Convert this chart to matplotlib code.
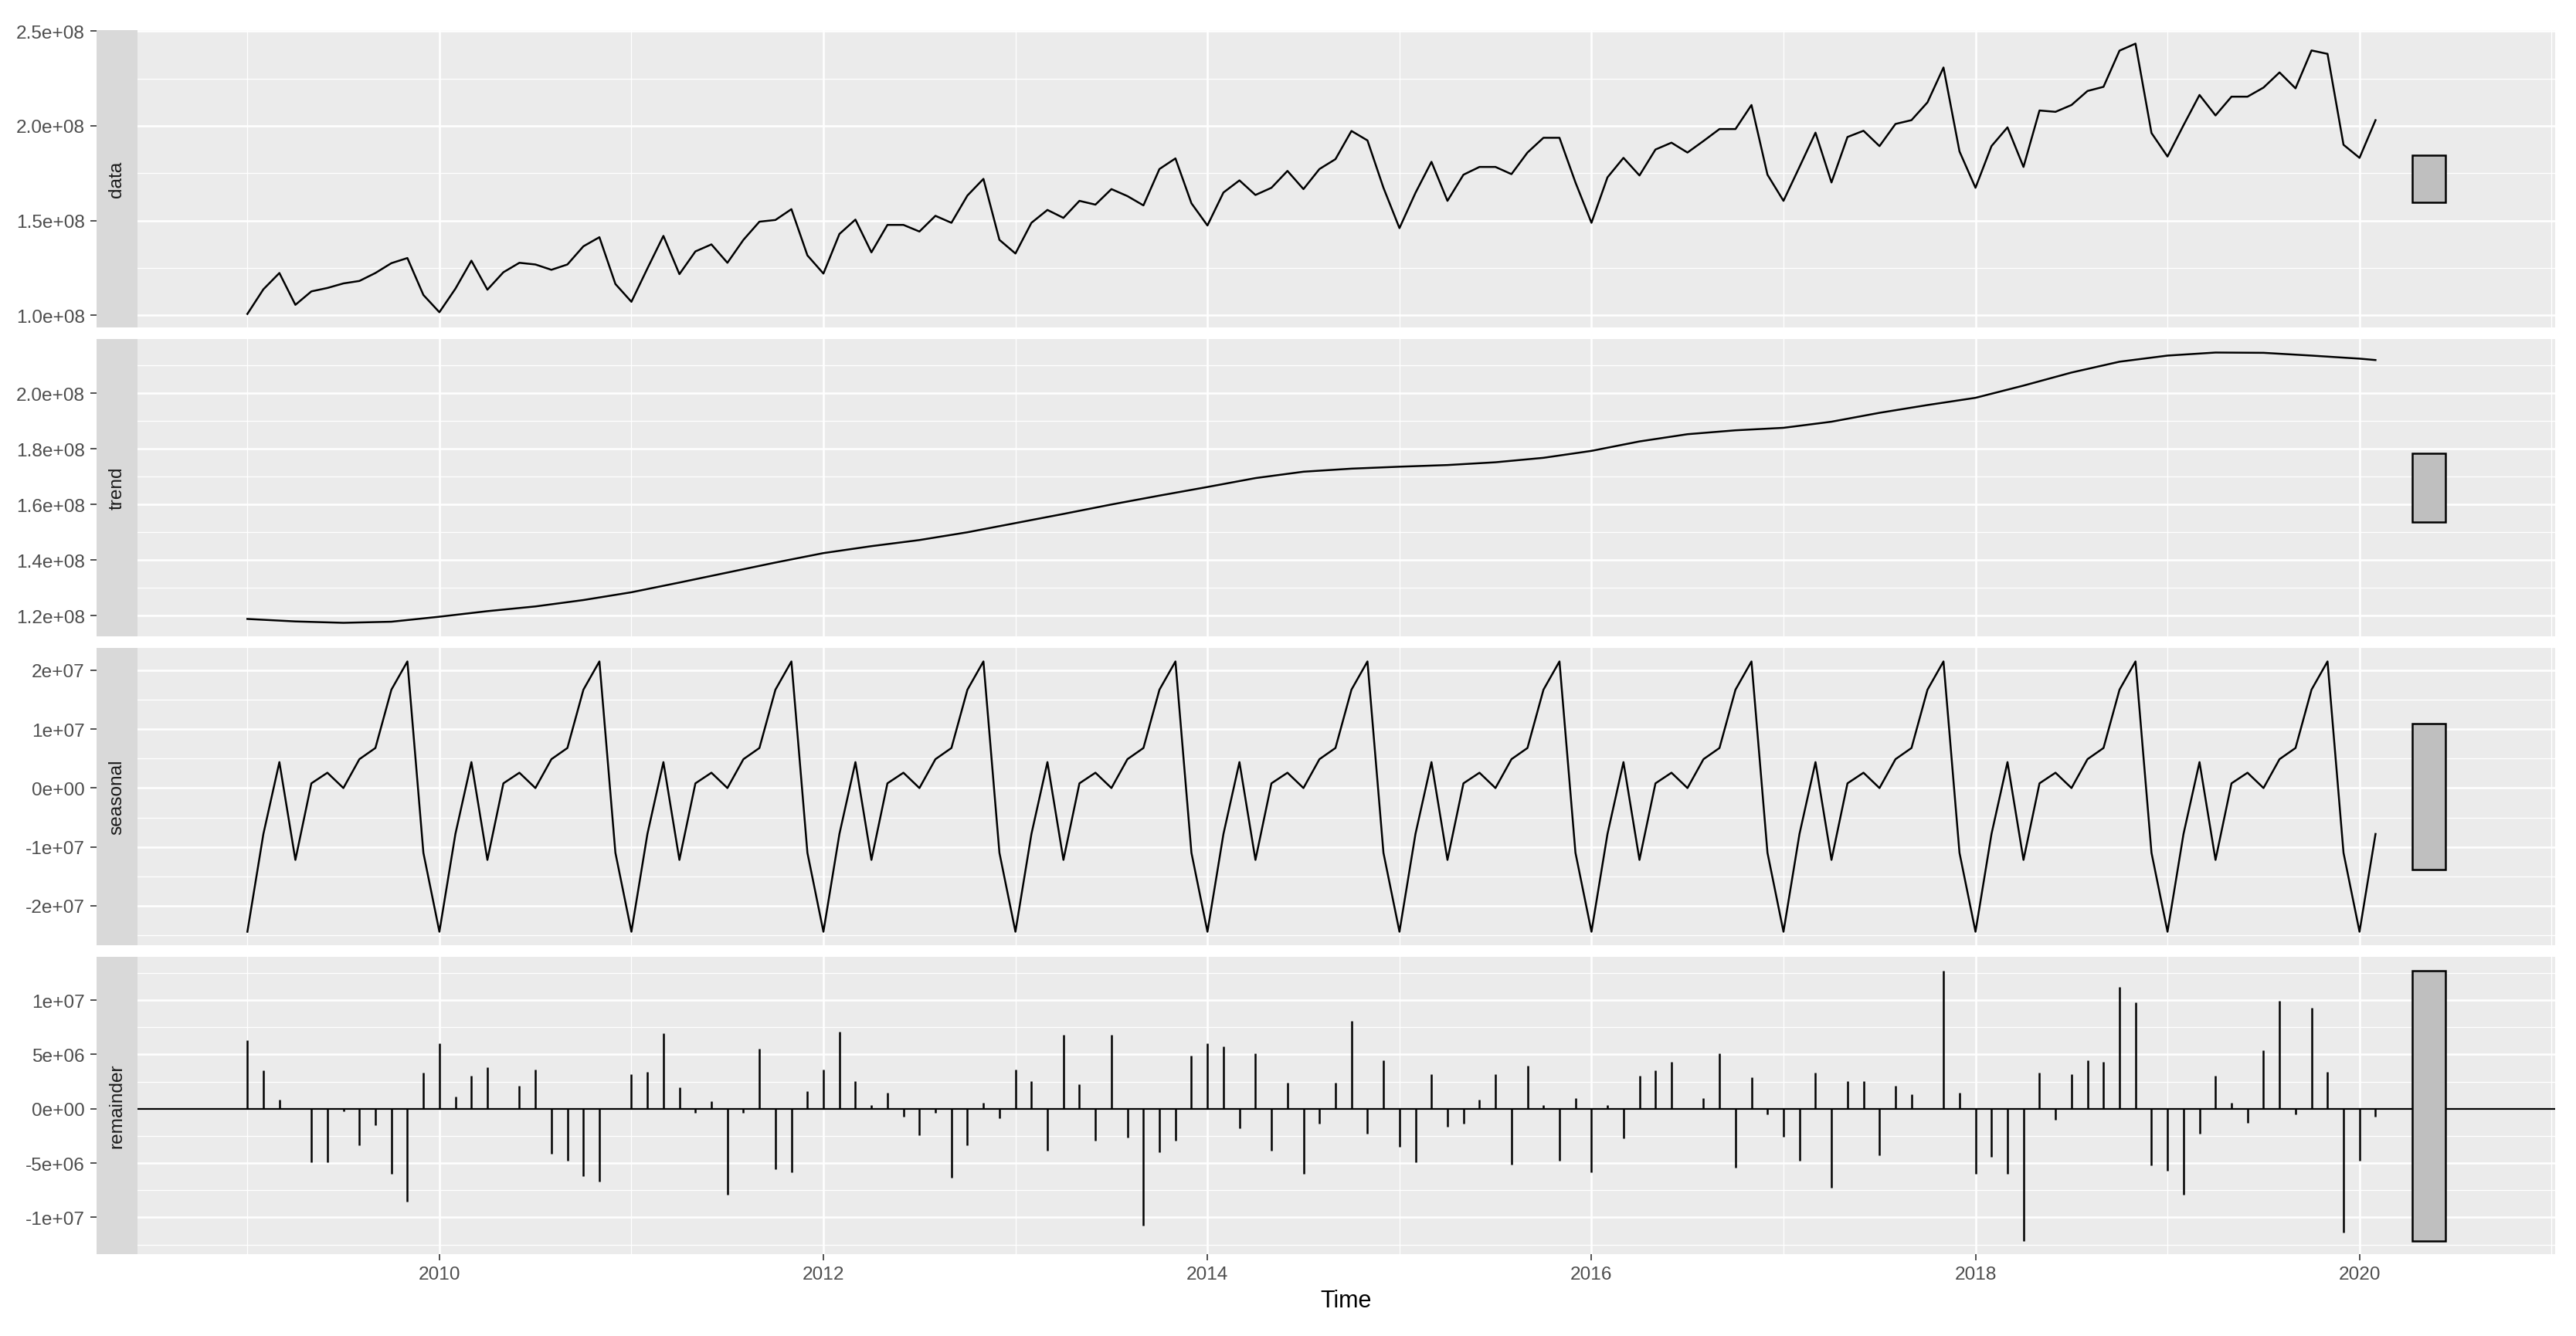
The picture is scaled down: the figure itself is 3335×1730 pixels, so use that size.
import matplotlib.pyplot as plt
import numpy as np

plt.rcParams['font.family'] = ['Liberation Sans', 'DejaVu Sans']

# monthly series Jan 2009 .. Feb 2020, values in millions
data_m = [100.7, 113.7, 122.3, 105.5, 112.6, 114.4, 116.8, 118.1, 122.3, 127.5, 130.2, 110.7,
          101.6, 114.0, 128.8, 113.5, 122.7, 127.7, 126.8, 124.0, 126.8, 136.4, 141.2, 116.5,
          107.1, 124.7, 141.9, 121.7, 133.7, 137.4, 127.7, 139.8, 149.4, 150.3, 156.0, 131.6,
          122.0, 142.9, 150.5, 133.2, 147.7, 147.7, 144.2, 152.5, 148.8, 163.2, 172.0, 139.8,
          132.6, 148.8, 155.6, 151.4, 160.4, 158.4, 166.6, 162.9, 158.0, 177.2, 182.8, 159.1,
          147.4, 164.8, 171.2, 163.5, 167.3, 176.2, 166.6, 177.2, 182.4, 197.3, 192.3, 167.3,
          146.0, 164.6, 181.0, 160.4, 174.2, 178.3, 178.3, 174.5, 185.9, 193.7, 193.7, 170.1,
          148.8, 172.8, 183.1, 173.8, 187.5, 191.1, 185.9, 192.0, 198.3, 198.3, 211.0, 174.2,
          160.4, 178.3, 196.4, 170.1, 194.1, 197.4, 189.3, 201.0, 203.0, 212.4, 230.8, 186.5,
          167.3, 189.3, 199.2, 178.3, 208.1, 207.4, 211.0, 218.4, 220.6, 239.7, 243.4, 196.2,
          183.8, 200.3, 216.3, 205.5, 215.4, 215.4, 220.2, 228.2, 219.8, 239.8, 238.0, 190.0,
          183.1, 203.0]

remainder_m = [6.31, 3.50, 0.83, 0.05, -4.95, -4.95, -0.24, -3.38, -1.50, -6.00, -8.52, 3.33,
               6.02, 1.14, 3.02, 3.81, 0.05, 2.10, 3.64, -4.17, -4.81, -6.19, -6.67, 0.05,
               3.19, 3.38, 6.95, 1.95, -0.38, 0.69, -7.90, -0.38, 5.55, -5.60, -5.88, 1.62,
               3.64, 7.10, 2.57, 0.36, 1.48, -0.71, -2.45, -0.40, -6.36, -3.38, 0.52, -0.88,
               3.64, 2.57, -3.86, 6.79, 2.24, -2.93, 6.79, -2.62, -10.76, -4.00, -2.93, 4.90,
               6.00, 5.71, -1.83, 5.07, -3.86, 2.38, -6.02, -1.36, 2.38, 8.05, -2.29, 4.43,
               -3.52, -4.95, 3.19, -1.67, -1.36, 0.83, 3.19, -5.12, 3.98, 0.36, -4.81, 1.00,
               -5.88, 0.36, -2.74, 3.02, 3.50, 4.29, 0.05, 1.00, 5.07, -5.40, 2.86, -0.55,
               -2.57, -4.81, 3.33, -7.26, 2.57, 2.57, -4.29, 2.10, 1.31, 0.05, 12.74, 1.48,
               -6.00, -4.45, -6.00, -12.14, 3.33, -1.00, 3.19, 4.45, 4.29, 11.19, 9.79, -5.24,
               -5.71, -7.90, -2.29, 3.02, 0.52, -1.33, 5.38, 9.93, -0.55, 9.31, 3.36, -11.36,
               -4.81, -0.71]

# one seasonal cycle, Jan..Dec
seasonal_cycle_m = [-24.4, -7.8, 4.4, -12.2, 0.8, 2.6, 0.0, 4.9, 6.8, 16.7, 21.5, -11.0]

# trend read quarterly
trend_time = [2009.0, 2009.25, 2009.5, 2009.75, 2010.0, 2010.25, 2010.5, 2010.75,
              2011.0, 2011.25, 2011.5, 2011.75, 2012.0, 2012.25, 2012.5, 2012.75,
              2013.0, 2013.25, 2013.5, 2013.75, 2014.0, 2014.25, 2014.5, 2014.75,
              2015.0, 2015.25, 2015.5, 2015.75, 2016.0, 2016.25, 2016.5, 2016.75,
              2017.0, 2017.25, 2017.5, 2017.75, 2018.0, 2018.25, 2018.5, 2018.75,
              2019.0, 2019.25, 2019.5, 2019.75, 2020.0, 2020.083]
trend_m = [118.8, 117.9, 117.4, 117.8, 119.6, 121.6, 123.3, 125.6,
           128.4, 131.9, 135.5, 139.1, 142.5, 145.0, 147.2, 150.0,
           153.3, 156.6, 160.0, 163.2, 166.3, 169.5, 171.8, 172.9,
           173.6, 174.2, 175.2, 176.8, 179.3, 182.7, 185.3, 186.7,
           187.6, 189.8, 193.0, 195.8, 198.4, 202.8, 207.5, 211.4,
           213.6, 214.7, 214.6, 213.6, 212.5, 212.0]

panel_names = ["data", "trend", "seasonal", "remainder"]
ytick_vals = [[1.0e8, 1.5e8, 2.0e8, 2.5e8],
              [1.2e8, 1.4e8, 1.6e8, 1.8e8, 2.0e8],
              [-2e7, -1e7, 0, 1e7, 2e7],
              [-1e7, -5e6, 0, 5e6, 1e7]]
ytick_labels = [["1.0e+08", "1.5e+08", "2.0e+08", "2.5e+08"],
                ["1.2e+08", "1.4e+08", "1.6e+08", "1.8e+08", "2.0e+08"],
                ["-2e+07", "-1e+07", "0e+00", "1e+07", "2e+07"],
                ["-1e+07", "-5e+06", "0e+00", "5e+06", "1e+07"]]
xtick_vals = [2010, 2012, 2014, 2016, 2018, 2020]
xtick_labels = ["2010", "2012", "2014", "2016", "2018", "2020"]

n = len(data_m)
t = 2009 + np.arange(n) / 12
data = np.array(data_m) * 1e6
remainder = np.array(remainder_m) * 1e6
seasonal = np.tile(seasonal_cycle_m, n // 12 + 1)[:n] * 1e6
trend = np.array(trend_m) * 1e6

series = [data, trend, seasonal, remainder]
ranges = [(s.min(), s.max()) for s in series]
barlen = min(hi - lo for lo, hi in ranges)

# range bars sit just right of the series
bar_w = 0.173
bar_x = 2020.36
x_lo, x_hi = 2009.0, bar_x + bar_w / 2
xpad = 0.05 * (x_hi - x_lo)

W, H = 3335, 1731
fig = plt.figure(figsize=(W / 200, H / 200), dpi=200)

left, right = 178, 3308
strip_l = 125
tops = [40, 440, 840, 1240]
ph = 385

for i, name in enumerate(panel_names):
    top = tops[i]
    ax = fig.add_axes([left / W, 1 - (top + ph) / H, (right - left) / W, ph / H])
    sx = fig.add_axes([strip_l / W, 1 - (top + ph) / H, (left - strip_l) / W, ph / H])

    lo, hi = ranges[i]
    pad = 0.05 * (hi - lo)
    ylim = (lo - pad, hi + pad)

    ax.set_facecolor("#EBEBEB")
    if i == 0:
        ax.plot(t, data, color="black", lw=0.9)
    elif i == 1:
        ax.plot(trend_time, trend, color="black", lw=0.9)
    elif i == 2:
        ax.plot(t, seasonal, color="black", lw=0.9)
    else:
        ax.axhline(0, color="black", lw=0.8, zorder=2)
        ax.vlines(t, 0, remainder, color="black", lw=0.9, zorder=3)

    mid = (lo + hi) / 2
    ax.bar(bar_x, barlen, width=bar_w, bottom=mid - barlen / 2,
           color="#BFBFBF", edgecolor="black", lw=0.9, zorder=3)

    ax.set_xlim(x_lo - xpad, x_hi + xpad)
    ax.set_ylim(*ylim)
    maj = ytick_vals[i]
    step = maj[1] - maj[0]
    minor = [v + step / 2 for v in [maj[0] - step] + maj]
    minor = [v for v in minor if ylim[0] <= v <= ylim[1]]
    ax.set_yticks(maj)
    ax.set_yticks(minor, minor=True)
    ax.set_xticks(xtick_vals)
    ax.set_xticks([2009, 2011, 2013, 2015, 2017, 2019, 2021], minor=True)
    ax.grid(which="major", color="white", lw=0.9)
    ax.grid(which="minor", color="white", lw=0.45)
    ax.set_axisbelow(True)
    ax.tick_params(which="both", left=False, labelleft=False)
    for s in ax.spines.values():
        s.set_visible(False)
    if i == 3:
        ax.set_xticklabels(xtick_labels)
        ax.tick_params(axis="x", which="major", length=2.9, width=0.6, color="#333333",
                       labelsize=8.8, labelcolor="#4D4D4D", pad=2.5)
        ax.tick_params(axis="x", which="minor", length=0)
        ax.set_xlabel("Time", fontsize=11, labelpad=3)
    else:
        ax.tick_params(axis="x", which="both", bottom=False, labelbottom=False)

    sx.set_facecolor("#D9D9D9")
    sx.set_ylim(*ylim)
    sx.set_xticks([])
    sx.set_yticks(maj)
    sx.set_yticklabels(ytick_labels[i])
    sx.tick_params(axis="y", length=2.9, width=0.6, color="#333333",
                   labelsize=8.8, labelcolor="#4D4D4D", pad=2.5)
    for s in sx.spines.values():
        s.set_visible(False)
    sx.text(0.5, 0.5, name, rotation=90, ha="center", va="center",
            fontsize=8.8, color="#1A1A1A", transform=sx.transAxes)

fig.savefig("out.png", dpi=200)
